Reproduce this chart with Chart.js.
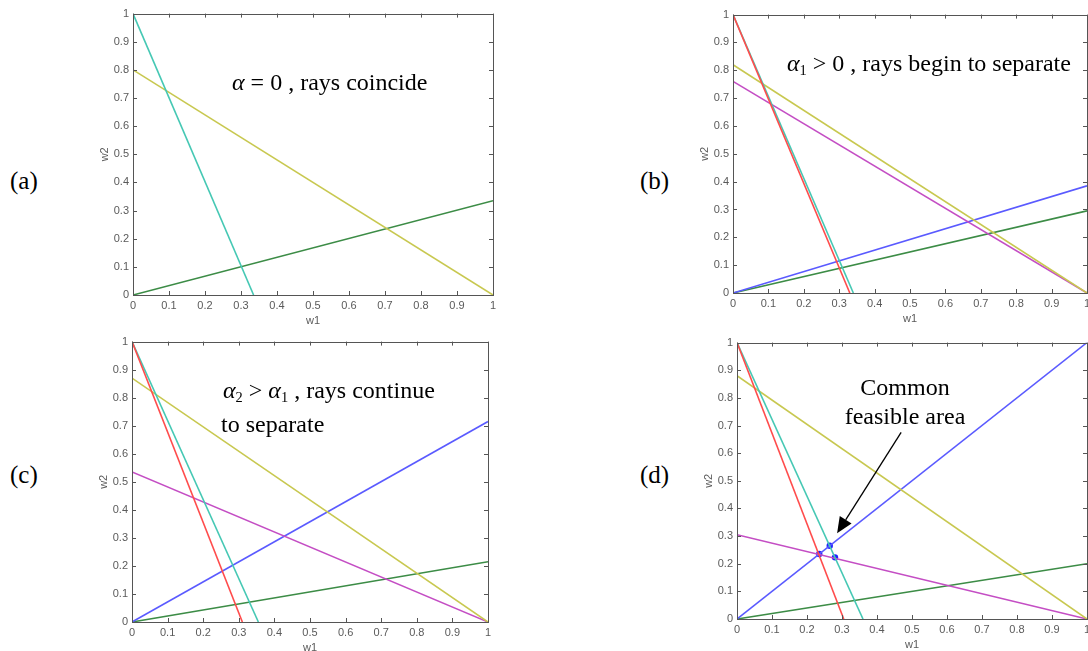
<!DOCTYPE html>
<html>
<head>
<meta charset="utf-8">
<script src="https://cdn.jsdelivr.net/npm/chart.js@4.4.1/dist/chart.umd.min.js"></script>
<style>
  html, body { margin: 0; padding: 0; background: #fff; }
  body { width: 1088px; height: 651px; position: relative; overflow: hidden; }
  canvas { position: absolute; }
  .tag, .note { position: absolute; font-family: "Liberation Serif", "Times New Roman", serif; color: #000; white-space: nowrap; line-height: 24px; }
  .tag { font-size: 25px; }
  .note { font-size: 24px; }
  .note i { font-style: italic; }
  .note sub { font-size: 0.6em; vertical-align: -0.3em; line-height: 0; }
  .ctr { transform: translateX(-50%); }
</style>
</head>
<body>
<canvas id="pa"></canvas>
<canvas id="pb"></canvas>
<canvas id="pc"></canvas>
<canvas id="pd"></canvas>

<div class="tag" style="left:10px; top:169px;">(a)</div>
<div class="tag" style="left:640px; top:169px;">(b)</div>
<div class="tag" style="left:10px; top:463px;">(c)</div>
<div class="tag" style="left:640px; top:463px;">(d)</div>

<div class="note" style="left:232px; top:70px;"><i>α</i> = 0 , rays coincide</div>
<div class="note" style="left:787px; top:51px;"><i>α</i><sub>1</sub> &gt; 0 , rays begin to separate</div>
<div class="note" style="left:223px; top:378px;"><i>α</i><sub>2</sub> &gt; <i>α</i><sub>1</sub> , rays continue</div>
<div class="note" style="left:221px; top:412px;">to separate</div>
<div class="note ctr" style="left:905px; top:375px;">Common</div>
<div class="note ctr" style="left:905px; top:404px;">feasible area</div>

<script>
// tick values / labels shared by every panel
var tickValues = [0, 0.1, 0.2, 0.3, 0.4, 0.5, 0.6, 0.7, 0.8, 0.9, 1];
var tickLabels = ['0', '0.1', '0.2', '0.3', '0.4', '0.5', '0.6', '0.7', '0.8', '0.9', '1'];

// line endpoints, [w1, w2]
// (a) alpha = 0
var aCyan   = [[0, 1], [0.335, 0]];
var aYellow = [[0, 0.80], [1, 0]];
var aGreen  = [[0, 0], [1, 0.335]];

// (b) alpha1 > 0
var bRed     = [[0, 1], [0.33, 0]];
var bCyan    = [[0, 1], [0.34, 0]];
var bYellow  = [[0, 0.82], [1, 0]];
var bMagenta = [[0, 0.76], [1, 0]];
var bBlue    = [[0, 0], [1, 0.385]];
var bGreen   = [[0, 0], [1, 0.295]];

// (c) alpha2 > alpha1
var cRed     = [[0, 1], [0.31, 0]];
var cCyan    = [[0, 1], [0.355, 0]];
var cYellow  = [[0, 0.87], [1, 0]];
var cMagenta = [[0, 0.535], [1, 0]];
var cBlue    = [[0, 0], [1, 0.715]];
var cGreen   = [[0, 0], [1, 0.215]];

// (d) common feasible area
var dRed     = [[0, 1], [0.305, 0]];
var dCyan    = [[0, 1], [0.36, 0]];
var dYellow  = [[0, 0.88], [1, 0]];
var dMagenta = [[0, 0.305], [1, 0]];
var dBlue    = [[0, 0], [1, 1]];
var dGreen   = [[0, 0], [1, 0.20]];
var dCorners = [[0.235, 0.235], [0.265, 0.265], [0.28, 0.223]];
var dArrow   = [[0.469, 0.675], [0.286, 0.31]];

var COLORS = {
    cyan:    '#46c8b4',
    yellow:  '#c8c850',
    green:   '#3c8c46',
    red:     '#ff4c4c',
    magenta: '#c44ec4',
    blue:    '#5a5aff'
};

var AXIS_COLOR = '#555';
var Y_W = 36, X_H = 33, PAD = { top: 10, right: 10, left: 2, bottom: 0 };

function pts(arr) {
    return arr.map(function (p) { return { x: p[0], y: p[1] }; });
}

function line(arr, color) {
    return {
        data: pts(arr), showLine: true, borderColor: color, backgroundColor: color,
        borderWidth: 1.6, pointRadius: 0, pointHoverRadius: 0
    };
}

// matlab style box with inward ticks on all four sides
var boxPlugin = {
    id: 'box',
    afterDatasetsDraw: function (chart) {
        var ctx = chart.ctx, a = chart.chartArea;
        var xs = chart.scales.x, ys = chart.scales.y;
        ctx.save();
        ctx.strokeStyle = AXIS_COLOR;
        ctx.lineWidth = 1;
        ctx.strokeRect(Math.round(a.left) + 0.5, Math.round(a.top) + 0.5,
            Math.round(a.right - a.left), Math.round(a.bottom - a.top));
        ctx.beginPath();
        tickValues.forEach(function (v) {
            var px = Math.round(xs.getPixelForValue(v)) + 0.5;
            ctx.moveTo(px, a.bottom); ctx.lineTo(px, a.bottom - 4);
            ctx.moveTo(px, a.top); ctx.lineTo(px, a.top + 4);
            var py = Math.round(ys.getPixelForValue(v)) + 0.5;
            ctx.moveTo(a.left, py); ctx.lineTo(a.left + 4, py);
            ctx.moveTo(a.right, py); ctx.lineTo(a.right - 4, py);
        });
        ctx.stroke();
        ctx.restore();
    }
};

var arrowPlugin = {
    id: 'arrow',
    afterDatasetsDraw: function (chart, args, opts) {
        if (!opts.points) return;
        var ctx = chart.ctx, xs = chart.scales.x, ys = chart.scales.y;
        var x0 = xs.getPixelForValue(opts.points[0][0]), y0 = ys.getPixelForValue(opts.points[0][1]);
        var x1 = xs.getPixelForValue(opts.points[1][0]), y1 = ys.getPixelForValue(opts.points[1][1]);
        var ang = Math.atan2(y1 - y0, x1 - x0), L = 16, W = 7;
        var bx = x1 - L * Math.cos(ang), by = y1 - L * Math.sin(ang);
        ctx.save();
        ctx.strokeStyle = '#000'; ctx.fillStyle = '#000'; ctx.lineWidth = 1.3;
        ctx.beginPath(); ctx.moveTo(x0, y0); ctx.lineTo(bx, by); ctx.stroke();
        ctx.beginPath();
        ctx.moveTo(x1, y1);
        ctx.lineTo(bx + W * Math.sin(ang), by - W * Math.cos(ang));
        ctx.lineTo(bx - W * Math.sin(ang), by + W * Math.cos(ang));
        ctx.closePath(); ctx.fill();
        ctx.restore();
    }
};

function axis(title, fixSize) {
    return {
        type: 'linear', min: 0, max: 1,
        afterBuildTicks: function (s) { s.ticks = tickValues.map(function (v) { return { value: v }; }); },
        afterFit: fixSize,
        grid: { display: false, drawTicks: false },
        border: { display: false },
        ticks: {
            color: '#5a5a5a', padding: 4, maxRotation: 0, autoSkip: false,
            font: { family: 'Liberation Sans, Arial, sans-serif', size: 11 },
            callback: function (v) {
                var i = tickValues.indexOf(Math.round(v * 10) / 10);
                return i < 0 ? '' : tickLabels[i];
            }
        },
        title: {
            display: true, text: title, color: '#5a5a5a', padding: { top: 1, bottom: 0 },
            font: { family: 'Liberation Sans, Arial, sans-serif', size: 11 }
        }
    };
}

function makePanel(id, rect, datasets, arrow) {
    var cv = document.getElementById(id);
    var w = (rect.right - rect.left) + Y_W + PAD.left + PAD.right;
    var h = (rect.bottom - rect.top) + X_H + PAD.top + PAD.bottom;
    cv.style.left = (rect.left - Y_W - PAD.left) + 'px';
    cv.style.top = (rect.top - PAD.top) + 'px';
    cv.width = w; cv.height = h;
    cv.style.width = w + 'px'; cv.style.height = h + 'px';
    return new Chart(cv, {
        type: 'scatter',
        data: { datasets: datasets },
        options: {
            responsive: false, animation: false, devicePixelRatio: 1,
            layout: { padding: PAD },
            plugins: { legend: { display: false }, tooltip: { enabled: false }, arrow: { points: arrow } },
            scales: {
                x: axis('w1', function (s) { s.height = X_H; }),
                y: axis('w2', function (s) { s.width = Y_W; })
            }
        },
        plugins: [boxPlugin, arrowPlugin]
    });
}

makePanel('pa', { left: 133, top: 13, right: 493, bottom: 295 }, [
    line(aCyan, COLORS.cyan), line(aYellow, COLORS.yellow), line(aGreen, COLORS.green)
]);

makePanel('pb', { left: 733, top: 14, right: 1087, bottom: 293 }, [
    line(bRed, COLORS.red), line(bCyan, COLORS.cyan), line(bYellow, COLORS.yellow),
    line(bMagenta, COLORS.magenta), line(bBlue, COLORS.blue), line(bGreen, COLORS.green)
]);

makePanel('pc', { left: 132, top: 341, right: 488, bottom: 622 }, [
    line(cRed, COLORS.red), line(cCyan, COLORS.cyan), line(cYellow, COLORS.yellow),
    line(cMagenta, COLORS.magenta), line(cBlue, COLORS.blue), line(cGreen, COLORS.green)
]);

var corners = {
    data: pts(dCorners), showLine: false, pointRadius: 3.2, pointStyle: 'circle',
    backgroundColor: '#2020ff', borderColor: '#2020ff', borderWidth: 0, pointHoverRadius: 0
};
makePanel('pd', { left: 737, top: 342, right: 1087, bottom: 619 }, [
    line(dRed, COLORS.red), line(dCyan, COLORS.cyan), line(dYellow, COLORS.yellow),
    line(dMagenta, COLORS.magenta), line(dBlue, COLORS.blue), line(dGreen, COLORS.green), corners
], dArrow);
</script>
</body>
</html>
